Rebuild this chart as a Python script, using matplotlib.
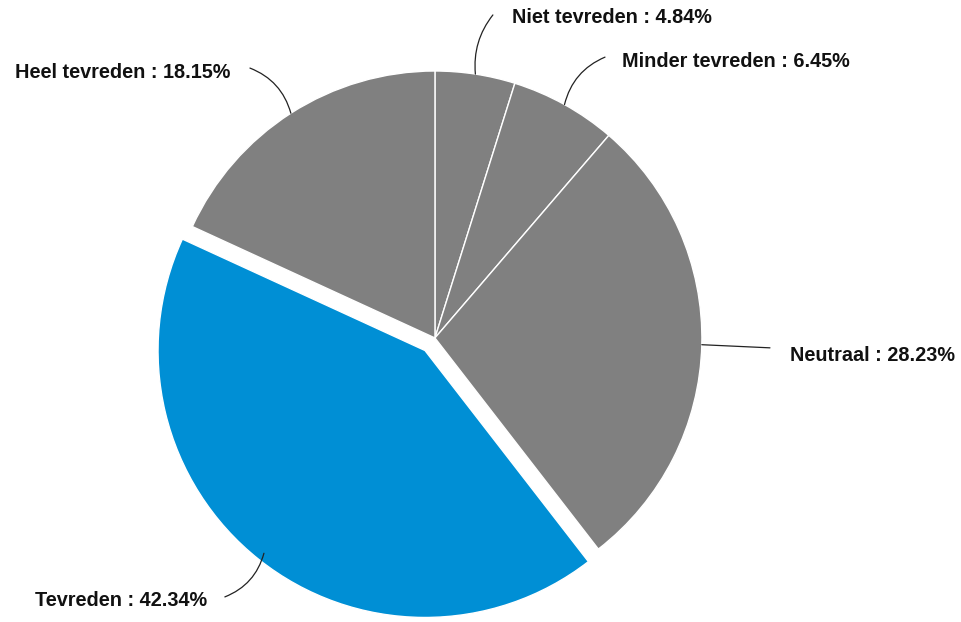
import numpy as np
import matplotlib.pyplot as plt

# data
labels = ["Niet tevreden", "Minder tevreden", "Neutraal", "Tevreden", "Heel tevreden"]
values = [4.84, 6.45, 28.23, 42.34, 18.15]
colors = ["#808080", "#808080", "#808080", "#008fd5", "#808080"]
explode = [0, 0, 0, 0.06, 0]

plt.rcParams["font.family"] = ["Liberation Sans", "DejaVu Sans"]

fig = plt.figure(figsize=(9.62, 6.22), dpi=100)
ax = fig.add_axes([0, 0, 1, 1])

wedges, _ = ax.pie(values, colors=colors, explode=explode, startangle=90,
                   counterclock=False, radius=1.0,
                   wedgeprops=dict(edgecolor="white", linewidth=1.0))

# label layout: (line start, text pos, alignment, curvature)
layout = [
    ((0.217, 1.210), (0.288, 1.199), "left", 0.2),
    ((0.637, 1.052), (0.700, 1.034), "left", 0.25),
    ((1.255, -0.037), (1.330, -0.064), "left", 0.0),
    ((-0.787, -0.970), (-0.854, -0.985), "right", 0.25),
    ((-0.693, 1.011), (-0.768, 0.996), "right", -0.25),
]

for w, lab, val, ex, (start, tpos, ha, rad) in zip(wedges, labels, values, explode, layout):
    ang = np.deg2rad((w.theta1 + w.theta2) / 2)
    r = 1.0 + ex - (0.03 if ex else 0)
    xy = (r * np.cos(ang), r * np.sin(ang))
    ax.annotate("", xy=xy, xytext=start,
                arrowprops=dict(arrowstyle="-", color="#222222", lw=0.9,
                                shrinkA=0, shrinkB=0,
                                connectionstyle=f"arc3,rad={rad}"))
    ax.text(tpos[0], tpos[1], f"{lab} : {val:.2f}%", ha=ha, va="center",
            fontsize=14.3, fontweight="bold", color="#111111")

ax.set_xlim(-1.629, 1.974)
ax.set_ylim(-1.064, 1.266)
ax.set_aspect("equal")
ax.axis("off")

fig.savefig("out.png", dpi=100)
